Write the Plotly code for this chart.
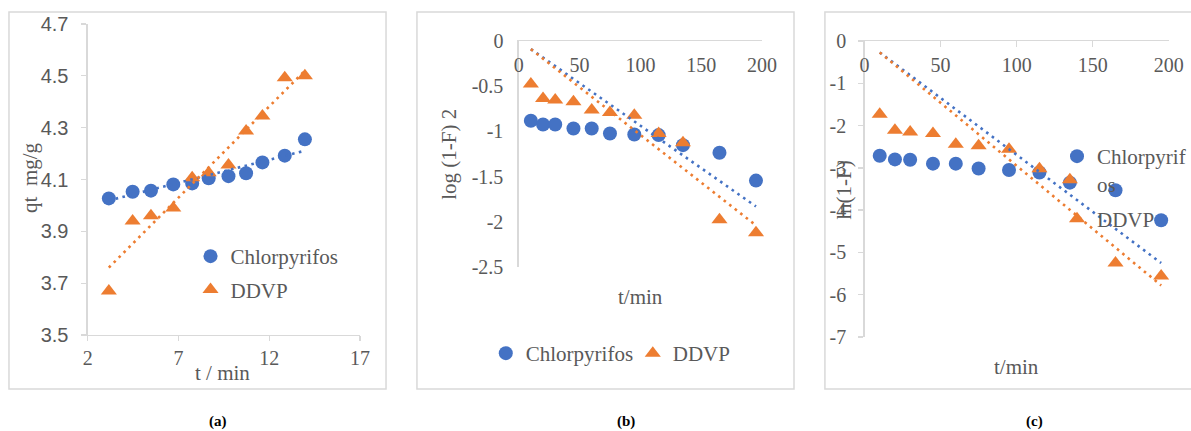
import plotly.graph_objects as go

W, H = 1191, 431

# ---------------- data ----------------
t_min = [10, 20, 30, 45, 60, 75, 95, 115, 135, 165, 195]
sqrt_t = [3.16, 4.47, 5.48, 6.71, 7.75, 8.66, 9.75, 10.72, 11.62, 12.85, 13.96]

a_chlor = [4.027, 4.053, 4.057, 4.081, 4.085, 4.105, 4.113, 4.124, 4.166, 4.192, 4.255]
a_ddvp = [3.67, 3.94, 3.96, 3.99, 4.107, 4.126, 4.156, 4.287, 4.345, 4.493, 4.50]
a_trend_x = [3.16, 13.96]
a_chlor_trend = [4.019, 4.211]
a_ddvp_trend = [3.76, 4.52]

b_chlor = [-0.883, -0.923, -0.923, -0.968, -0.968, -1.023, -1.034, -1.041, -1.152, -1.237, -1.544]
b_ddvp = [-0.476, -0.635, -0.654, -0.672, -0.764, -0.79, -0.82, -1.023, -1.126, -1.976, -2.12]
bc_trend_x = [10, 195]
b_chlor_trend = [-0.09, -1.83]
b_ddvp_trend = [-0.09, -2.04]

c_chlor = [-2.715, -2.80, -2.81, -2.90, -2.90, -3.015, -3.05, -3.11, -3.35, -3.53, -4.24]
c_ddvp = [-1.73, -2.11, -2.15, -2.19, -2.44, -2.48, -2.56, -3.02, -3.28, -5.25, -5.56]
c_chlor_trend = [-0.27, -5.25]
c_ddvp_trend = [-0.27, -5.78]

a_xticks = [2, 7, 12, 17]
a_yticks = [3.5, 3.7, 3.9, 4.1, 4.3, 4.5, 4.7]
a_ylabels = ["3.5", "3.7", "3.9", "4.1", "4.3", "4.5", "4.7"]
bc_xticks = [0, 50, 100, 150, 200]
b_yticks = [0, -0.5, -1, -1.5, -2, -2.5]
b_ylabels = ["0", "-0.5", "-1", "-1.5", "-2", "-2.5"]
c_yticks = [0, -1, -2, -3, -4, -5, -6, -7]
c_ylabels = ["0", "-1", "-2", "-3", "-4", "-5", "-6", "-7"]

series_names = ["Chlorpyrifos", "DDVP"]
panel_labels = ["(a)", "(b)", "(c)"]

# ---------------- style ----------------
BLUE = "#4472C4"
ORANGE = "#ED7D31"
GRAY_TXT = "#595959"
AX = "#d9d9d9"
SERIF = "Liberation Serif"
SANS = "Liberation Sans"


def px(x):
    return x / W


def py(y):
    return 1 - y / H


fig = go.Figure()


def add_panel(k, xs, chlor, ddvp, tx, ctr, dtr, legend, chlor_name):
    xa = "x" if k == 1 else f"x{k}"
    ya = "y" if k == 1 else f"y{k}"
    fig.add_trace(go.Scatter(x=xs, y=chlor, mode="markers", name=chlor_name,
                             marker=dict(symbol="circle", size=14, color=BLUE, line=dict(width=0)),
                             xaxis=xa, yaxis=ya, legend=legend, legendgroup=f"c{k}",
                             cliponaxis=False))
    fig.add_trace(go.Scatter(x=xs, y=ddvp, mode="markers", name=series_names[1],
                             marker=dict(symbol="triangle-up", size=14, color=ORANGE, line=dict(width=0)),
                             xaxis=xa, yaxis=ya, legend=legend, legendgroup=f"d{k}",
                             cliponaxis=False))
    fig.add_trace(go.Scatter(x=tx, y=ctr, mode="lines", showlegend=False,
                             line=dict(color=BLUE, width=2.6, dash="2.6px,4.4px"),
                             xaxis=xa, yaxis=ya, hoverinfo="skip"))
    fig.add_trace(go.Scatter(x=tx, y=dtr, mode="lines", showlegend=False,
                             line=dict(color=ORANGE, width=2.6, dash="2.6px,4.4px"),
                             xaxis=xa, yaxis=ya, hoverinfo="skip"))


add_panel(1, sqrt_t, a_chlor, a_ddvp, a_trend_x, a_chlor_trend, a_ddvp_trend, "legend", series_names[0])
add_panel(2, t_min, b_chlor, b_ddvp, bc_trend_x, b_chlor_trend, b_ddvp_trend, "legend2", series_names[0])
add_panel(3, t_min, c_chlor, c_ddvp, bc_trend_x, c_chlor_trend, c_ddvp_trend, "legend3", "Chlorpyrif<br>os")

tick_serif = dict(family=SERIF, size=20, color=GRAY_TXT)
tick_sans = dict(family=SANS, size=20, color=GRAY_TXT)
common = dict(showgrid=False, zeroline=False, showline=True, linecolor=AX, linewidth=1.3,
              tickcolor=AX, tickwidth=1.3, fixedrange=True, automargin=False,
              ticklabeloverflow="allow")

layout = dict(
    template="none",
    width=W, height=H, margin=dict(l=0, r=0, t=0, b=0, pad=0), autosize=False,
    paper_bgcolor="white", plot_bgcolor="rgba(0,0,0,0)",
    font=dict(family=SERIF, color=GRAY_TXT),
    showlegend=True,
    # panel a
    xaxis=dict(domain=[px(88), px(361)], anchor="y", range=[2, 17], tickvals=a_xticks,
               ticks="outside", ticklen=5, tickfont=tick_serif, ticklabelstandoff=0, **common),
    yaxis=dict(domain=[py(335), py(24)], anchor="x", range=[3.5, 4.7], tickvals=a_yticks,
               ticktext=a_ylabels, ticks="outside", ticklen=5, tickfont=tick_sans,
               ticklabelstandoff=9, **common),
    # panel b
    xaxis2=dict(domain=[px(520), px(764)], anchor="y2", range=[0, 200], tickvals=bc_xticks,
                side="top", ticklabelposition="inside", ticks="", tickfont=tick_serif,
                ticklabelstandoff=18, **common),
    yaxis2=dict(domain=[py(267), py(41)], anchor="x2", range=[-2.5, 0], tickvals=b_yticks,
                ticktext=b_ylabels, ticks="", tickfont=tick_serif, ticklabelstandoff=10, **common),
    # panel c
    xaxis3=dict(domain=[px(866.7), px(1171.7)], anchor="y3", range=[0, 200], tickvals=bc_xticks,
                side="top", ticklabelposition="inside", ticks="inside", ticklen=6,
                tickfont=tick_serif, ticklabelstandoff=12, **common),
    yaxis3=dict(domain=[py(337), py(41)], anchor="x3", range=[-7, 0], tickvals=c_yticks,
                ticktext=c_ylabels, ticks="outside", ticklen=5, tickfont=tick_serif,
                ticklabelstandoff=8, **common),
    legend=dict(x=px(191), y=py(236), xanchor="left", yanchor="top", bgcolor="rgba(0,0,0,0)",
                font=dict(family=SERIF, size=21, color=GRAY_TXT), tracegroupgap=3, borderwidth=0),
    legend2=dict(x=px(487), y=py(333), xanchor="left", yanchor="top", orientation="h",
                 bgcolor="rgba(0,0,0,0)", font=dict(family=SERIF, size=21, color=GRAY_TXT),
                 borderwidth=0, entrywidth=102, entrywidthmode="pixels"),
    legend3=dict(x=px(1060), y=py(136), xanchor="left", yanchor="top", valign="top",
                 bgcolor="rgba(0,0,0,0)", font=dict(family=SERIF, size=21, color=GRAY_TXT),
                 tracegroupgap=5, borderwidth=0),
)
fig.update_layout(**layout)

# panel borders
for x0, x1 in [(9, 387), (418, 796), (827, 1200)]:
    fig.add_shape(type="rect", xref="paper", yref="paper", x0=px(x0), x1=px(x1),
                  y0=py(389), y1=py(12), line=dict(color=AX, width=1.5), layer="below")

# axis titles
title_font = dict(family=SERIF, size=21, color=GRAY_TXT)
titles = [
    ("qt\u00a0\u00a0mg/g", 30, 177, -90),
    ("t / min", 223, 373, 0),
    ("log (1-F) 2", 450, 154, -90),
    ("t/min", 642, 297, 0),
    ("ln(1-F)", 846, 190, -90),
    ("t/min", 1019, 367, 0),
]
for text, x, y, ang in titles:
    fig.add_annotation(text=text, xref="paper", yref="paper", x=px(x), y=py(y),
                       xanchor="center", yanchor="middle", showarrow=False,
                       textangle=ang, font=title_font)

for lab, x in zip(panel_labels, [219, 628, 1037]):
    fig.add_annotation(text=f"<b>{lab}</b>", xref="paper", yref="paper", x=px(x), y=py(421),
                       xanchor="center", yanchor="middle", showarrow=False,
                       font=dict(family=SERIF, size=15, color="black"))

fig.write_html("out.html", config={"displayModeBar": False, "staticPlot": True},
               post_script="document.body.style.margin='0';document.body.style.overflow='hidden';")
